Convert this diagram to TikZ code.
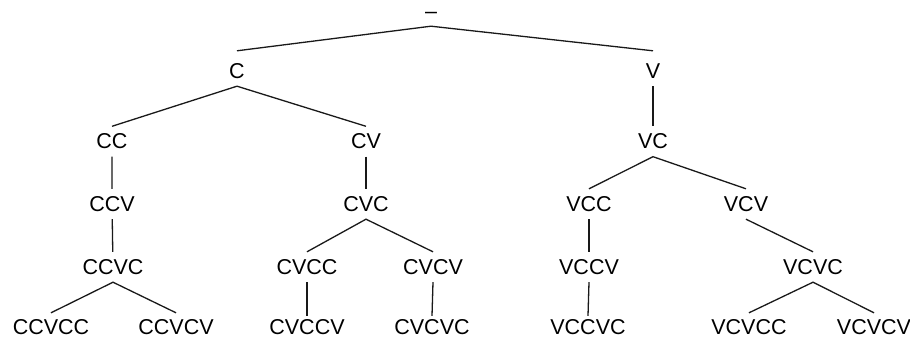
\documentclass[tikz,border=0pt]{standalone}
\usepackage{fontspec}
\setmainfont{Liberation Sans}
\usetikzlibrary{calc}
\tikzset{
    syl/.style={font=\fontsize{21.5pt}{25pt}\selectfont, text=black, inner xsep=2pt, inner ysep=7.5pt, text height=15pt, text depth=0pt},
    leaf/.style={syl, inner ysep=0pt},
    branch/.style={line width=1.3pt, black!90},
  }
\begin{document}
\begin{tikzpicture}[x=1pt,y=-1pt]
				  %cadre
				  \useasboundingbox (0,0) rectangle (910,339);
				  %niveaux 0 a 2
				  \node[syl](r) at (431,11){--};
				  \node[syl](c) at (237,71){C};
				  \node[syl](v) at (653,71){V};
				  \node[syl](cc) at (112,141.5){CC};
				  \node[syl](cv) at (366,141.5){CV};
				  \node[syl](vc) at (653,141.5){VC};
				  %niveau 3
				  \node[syl](ccv) at (112,204){CCV};
				  \node[syl](cvc) at (366,204){CVC};
				  \node[syl](vcc) at (589,204){VCC};
				  \node[syl](vcv) at (746,204){VCV};
				  %niveau 4
				  \node[syl](ccvc) at (113,267){CCVC};
				  \node[syl](cvcc) at (307,267){CVCC};
				  \node[syl](cvcv) at (433,267){CVCV};
				  \node[syl](vccv) at (589,267){VCCV};
				  \node[syl](vcvc) at (813,267){VCVC};
				  %niveau 5 (feuilles)
				  \node[leaf](ccvcc) at (51,326.5){CCVCC};
				  \node[leaf](ccvcv) at (176,326.5){CCVCV};
				  \node[leaf](cvccv) at (307,326.5){CVCCV};
				  \node[leaf](cvcvc) at (432,326.5){CVCVC};
				  \node[leaf](vccvc) at (588,326.5){VCCVC};
				  \node[leaf](vcvcc) at (749,326.5){VCVCC};
				  \node[leaf](vcvcv) at (874,326.5){VCVCV};
				  %branches
				  \draw[branch] ([yshift=5pt]c.north) -- (r.south) -- ([yshift=5pt]v.north);
				  \draw[branch] (cc.north) -- (c.south) -- (cv.north);
				  \draw[branch] (v) -- (vc);
				  \draw[branch] (cc) -- (ccv) -- (ccvc);
				  \draw[branch] (cv) -- (cvc);
				  \draw[branch] (vcc.north) -- (vc.south) -- (vcv.north);
				  \draw[branch] ([yshift=6pt]ccvcc.north) -- (ccvc.south) -- ([yshift=6pt]ccvcv.north);
				  \draw[branch] ([yshift=6pt]vcvcc.north) -- (vcvc.south) -- ([yshift=6pt]vcvcv.north);
				  \draw[branch] (cvcc.north) -- (cvc.south) -- (cvcv.north);
				  \draw[branch] (cvcc.south) -- ([yshift=3pt]cvccv.north);
				  \draw[branch] (cvcv.south) -- ([yshift=3pt]cvcvc.north);
				  \draw[branch] (vcc) -- (vccv);
				  \draw[branch] (vccv.south) -- ([yshift=3pt]vccvc.north);
				  \draw[branch] (vcv.south) -- (vcvc.north);
				  \end{tikzpicture}
\end{document}
